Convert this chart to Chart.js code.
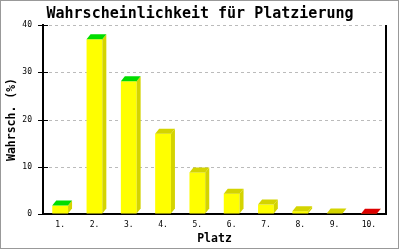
<!DOCTYPE html>
<html>
<head>
<meta charset="utf-8">
<script src="https://cdn.jsdelivr.net/npm/chart.js@4"></script>
<style>
  html, body { margin: 0; padding: 0; background: #fff; }
  #wrap { width: 400px; height: 250px; }
</style>
</head>
<body>
<div id="wrap"><canvas id="chart" width="400" height="250"></canvas></div>
<script>
// Daten
const places = ['1.', '2.', '3.', '4.', '5.', '6.', '7.', '8.', '9.', '10.'];
const probability = [1.8, 37.0, 28.1, 17.0, 8.8, 4.3, 2.0, 0.6, 0.1, 0.05];
const yTicks = [0, 10, 20, 30, 40];

// Farben der Deckflächen (oben: Plätze 1-3 grün, letzter rot)
const topColors = ['#00dd00', '#00dd00', '#00dd00', '#d4d400', '#d4d400', '#d4d400', '#d4d400', '#d4d400', '#d4d400', '#dd0000'];
const frontColor = '#ffff00';
const sideColor = '#d4d400';
const mono = 'DejaVu Sans Mono';

// 3D-Effekt, Rahmen, gestrichelte Gitterlinien und Achsen-Ticks
const bar3d = {
    id: 'bar3d',
    beforeDraw(chart) {
        const c = chart.ctx;
        c.save();
        c.fillStyle = '#fff';
        c.fillRect(0, 0, chart.width, chart.height);
        c.strokeStyle = '#999';
        c.lineWidth = 1;
        c.strokeRect(0.5, 0.5, 398, 248);
        c.restore();
    },
    beforeDatasetsDraw(chart) {
        const c = chart.ctx;
        const area = chart.chartArea;
        const y = chart.scales.y;
        c.save();
        c.strokeStyle = '#bbb';
        c.lineWidth = 1;
        c.setLineDash([3, 3]);
        yTicks.slice(1).forEach(v => {
            const py = Math.round(y.getPixelForValue(v)) + 0.5;
            c.beginPath();
            c.moveTo(area.left + 6, py);
            c.lineTo(area.right, py);
            c.stroke();
        });
        c.restore();
    },
    afterDatasetsDraw(chart) {
        const c = chart.ctx;
        const meta = chart.getDatasetMeta(0);
        const dx = 4, dy = 5;
        c.save();
        meta.data.forEach((bar, i) => {
            const l = bar.x - bar.width / 2;
            const r = bar.x + bar.width / 2;
            const t = bar.y;
            const b = bar.base;
            // Seitenfläche
            c.fillStyle = sideColor;
            c.beginPath();
            c.moveTo(r, b);
            c.lineTo(r, t);
            c.lineTo(r + dx, t - dy);
            c.lineTo(r + dx, b - dy);
            c.closePath();
            c.fill();
            // Deckfläche
            c.fillStyle = topColors[i];
            c.beginPath();
            c.moveTo(l, t);
            c.lineTo(l + dx, t - dy);
            c.lineTo(r + dx, t - dy);
            c.lineTo(r, t);
            c.closePath();
            c.fill();
        });
        c.restore();
    },
    afterDraw(chart) {
        const c = chart.ctx;
        const area = chart.chartArea;
        const y = chart.scales.y;
        c.save();
        c.strokeStyle = '#000';
        c.lineWidth = 2;
        c.beginPath();
        c.moveTo(area.right, area.top);
        c.lineTo(area.right, area.bottom);
        c.stroke();
        c.lineWidth = 1;
        yTicks.forEach(v => {
            const py = Math.round(y.getPixelForValue(v)) + 0.5;
            c.beginPath();
            c.moveTo(area.left - 5, py);
            c.lineTo(area.left + 5, py);
            c.stroke();
        });
        c.restore();
    }
};

const ctx = document.getElementById('chart').getContext('2d');
new Chart(ctx, {
    type: 'bar',
    data: {
        labels: places,
        datasets: [{
            label: 'Wahrscheinlichkeit',
            data: probability,
            backgroundColor: frontColor,
            borderWidth: 0,
            categoryPercentage: 1,
            barPercentage: 0.46
        }]
    },
    options: {
        responsive: false,
        animation: false,
        layout: { padding: 0 },
        plugins: {
            legend: { display: false },
            tooltip: { enabled: false },
            title: {
                display: true,
                text: 'Wahrscheinlichkeit für Platzierung',
                color: '#000',
                font: { family: mono, size: 15, weight: 'bold', lineHeight: 1.2 },
                padding: { top: 5, bottom: 2 }
            }
        },
        scales: {
            x: {
                grid: { display: true, drawOnChartArea: false, drawTicks: false },
                border: { display: true, color: '#000', width: 2 },
                ticks: { color: '#000', padding: 6, font: { family: mono, size: 8 } },
                title: {
                    display: true,
                    text: 'Platz',
                    color: '#000',
                    font: { family: mono, size: 11.5, weight: 'bold', lineHeight: 1.2 },
                    padding: { top: 0, bottom: 4 }
                },
                afterFit: s => { s.height = 36; }
            },
            y: {
                min: 0,
                max: 40,
                afterBuildTicks: s => { s.ticks = yTicks.map(v => ({ value: v })); },
                grid: {
                    drawOnChartArea: false,
                    tickLength: 5,
                    tickColor: 'rgba(0,0,0,0)',
                    drawTicks: true
                },
                border: { display: true, color: '#000', width: 2 },
                ticks: { color: '#000', padding: 6, font: { family: mono, size: 8 } },
                title: {
                    display: true,
                    text: 'Wahrsch. (%)',
                    color: '#000',
                    font: { family: mono, size: 11.5, weight: 'bold', lineHeight: 1.2 },
                    padding: { top: 5, bottom: 0 }
                },
                afterFit: s => { s.width = 43; }
            },
            // leere rechte Achse als Rand
            yr: {
                position: 'right',
                display: true,
                grid: { display: false },
                border: { display: false },
                ticks: { display: false },
                afterFit: s => { s.width = 14; }
            }
        }
    },
    plugins: [bar3d]
});
</script>
</body>
</html>
